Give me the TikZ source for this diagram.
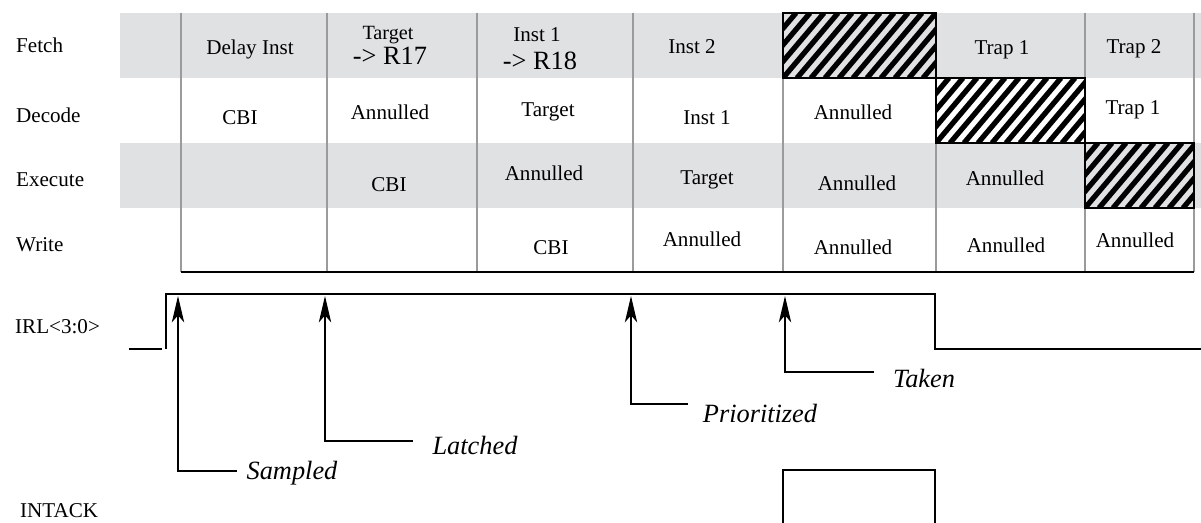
\documentclass[tikz,border=0pt]{standalone}
\usepackage{fontspec}
\setmainfont{Liberation Serif}[ItalicFont={Liberation Serif Italic}]
\usepackage{tikz}
\usetikzlibrary{arrows.meta}
\usepackage{xcolor}
\definecolor{band}{RGB}{224,225,227}
\definecolor{rule}{RGB}{155,155,158}

% striped (hatched) stage cell: x1 y1 x2 y2
\newcommand{\hatchcell}[4]{%
  \begin{scope}
    \clip (#1,#2) rectangle (#3,#4);
    \foreach \s in {-70,-56,...,170}
      \draw[line width=3pt] (#1+\s,#4) -- ++(55,-65);
  \end{scope}
  \draw[line width=1.5pt] (#1,#2) rectangle (#3,#4);}

\tikzset{
  cell/.style={font=\fontsize{12}{14}\selectfont},
  bigcell/.style={font=\fontsize{15}{17}\selectfont},
  smallcell/.style={font=\fontsize{11.5}{13}\selectfont},
  rowlabel/.style={anchor=west,font=\fontsize{12}{14}\selectfont},
  event/.style={font=\fontsize{15}{17}\selectfont\itshape},
  signal/.style={line width=1.2pt},
  marker/.style={line width=1.2pt,-{Stealth[length=15pt,width=7pt,inset=4pt]}}
}

\begin{document}
\begin{tikzpicture}[x=0.02cm,y=-0.02cm]
    \useasboundingbox (0,0) rectangle (1201,523);
    % pipeline table
    \fill[band] (120,13) rectangle (1201,78);
    \fill[band] (120,143) rectangle (1201,208);
    \foreach \x in {181,327,477,633,783,936,1085,1194}
      \draw[rule,line width=1pt] (\x,13) -- (\x,272);
    \draw[line width=1.2pt] (181,272) -- (1194,272);
    \hatchcell{783}{13}{936}{78}
    \hatchcell{936}{78}{1085}{143}
    \hatchcell{1085}{143}{1194}{208}
    % row labels
    \node[rowlabel] (fetch) at (10,45) {Fetch};
    \node[rowlabel] (decode) at (10,115) {Decode};
    \node[rowlabel] (execute) at (10,180) {Execute};
    \node[rowlabel] (write) at (10,245) {Write};
    % fetch row
    \node[cell] (f1) at (250,49) {Delay Inst};
    \node[smallcell] (f2a) at (388,35) {Target};
    \node[bigcell] (f2b) at (390,56) {-> R17};
    \node[cell] (f3a) at (537,35) {Inst 1};
    \node[bigcell] (f3b) at (540,61) {-> R18};
    \node[cell] (f4) at (692,47) {Inst 2};
    \node[cell] (f6) at (1002,50) {Trap 1};
    \node[cell] (f7) at (1134,49) {Trap 2};
    % decode row
    \node[cell] (d1) at (240,118) {CBI};
    \node[cell] (d2) at (390,112) {Annulled};
    \node[cell] (d3) at (548,112) {Target};
    \node[cell] (d4) at (707,118) {Inst 1};
    \node[cell] (d5) at (853,112) {Annulled};
    \node[cell] (d7) at (1133,110) {Trap 1};
    % execute row
    \node[cell] (e2) at (389,185) {CBI};
    \node[cell] (e3) at (544,173) {Annulled};
    \node[cell] (e4) at (707,180) {Target};
    \node[cell] (e5) at (857,183) {Annulled};
    \node[cell] (e6) at (1005,178) {Annulled};
    % write row
    \node[cell] (w3) at (551,248) {CBI};
    \node[cell] (w4) at (702,239) {Annulled};
    \node[cell] (w5) at (853,247) {Annulled};
    \node[cell] (w6) at (1006,245) {Annulled};
    \node[cell] (w7) at (1135,240) {Annulled};
    % IRL<3:0> waveform
    \node[rowlabel] (irl) at (9,327) {IRL<3:0>};
    \draw[signal] (129,349) -- (162,349);
    \draw[signal] (166,349) -- (166,294) -- (935,294) -- (935,349) -- (1201,349);
    % interrupt events
    \coordinate (sampledfoot) at (237,471);
    \coordinate (sampledtip) at (178,296);
    \coordinate (latchedfoot) at (413,441);
    \coordinate (latchedtip) at (325,296);
    \coordinate (priofoot) at (688,404);
    \coordinate (priotip) at (631,296);
    \coordinate (takenfoot) at (874,372);
    \coordinate (takentip) at (785,296);
    \draw[marker] (sampledfoot) -| (sampledtip);
    \draw[marker] (latchedfoot) -| (latchedtip);
    \draw[marker] (priofoot) -| (priotip);
    \draw[marker] (takenfoot) -| (takentip);
    \node[event] (sampled) at (292,473) {Sampled};
    \node[event] (latched) at (475,445) {Latched};
    \node[event] (prioritized) at (760,413) {Prioritized};
    \node[event] (taken) at (924,378) {Taken};
    % INTACK waveform
    \node[rowlabel] (intack) at (14,511) {INTACK};
    \draw[signal] (783,523) -- (783,470) -- (935,470) -- (935,523);
\end{tikzpicture}
\end{document}
